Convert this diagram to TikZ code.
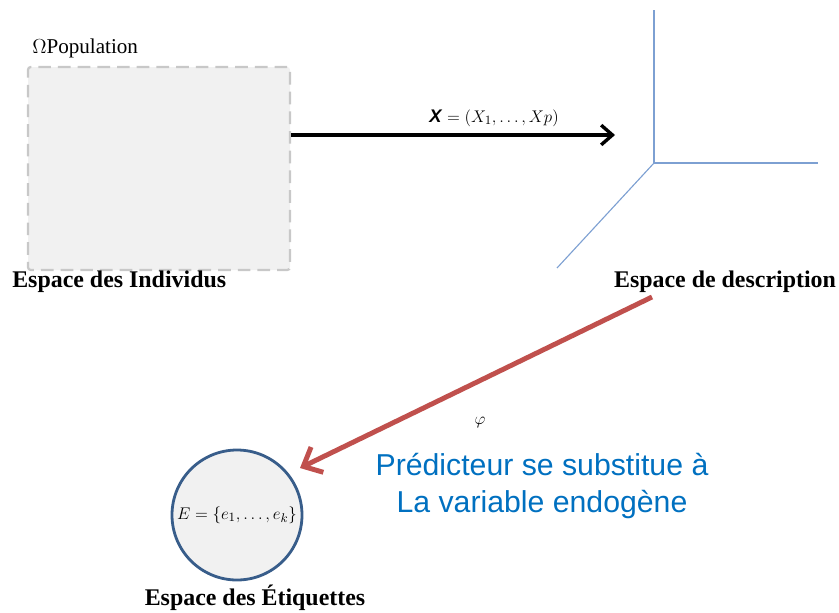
\documentclass[tikz,border=0pt]{standalone}
\usepackage{amsmath,amssymb}
\usepackage{fontspec}
\setmainfont{Liberation Serif}
\setsansfont{Liberation Sans}
\usepackage{tikz}
\usetikzlibrary{arrows.meta, positioning, calc}
\definecolor{popfill}{RGB}{241,241,241}
\definecolor{popdraw}{RGB}{200,200,200}
\definecolor{axeblue}{RGB}{125,160,210}
\definecolor{redarrow}{RGB}{192,80,77}
\definecolor{textblue}{RGB}{0,112,192}
\definecolor{circdraw}{RGB}{56,93,138}
\tikzset{
  titre/.style={font=\fontsize{17}{19}\selectfont\bfseries, inner sep=0pt},
  pop/.style={rectangle, rounded corners=2pt, fill=popfill, draw=popdraw,
    line width=1.6pt, dash pattern=on 9pt off 5pt},
  etq/.style={circle, fill=popfill, draw=circdraw, line width=2pt},
  axe/.style={draw=axeblue, line width=0.8pt},
  arr/.style={-{Straight Barb[length=8pt, width=14pt, line width=2.4pt]}, line width=2.4pt},
  rarr/.style={-{Straight Barb[length=11pt, width=20pt, line width=3.5pt]},
    draw=redarrow, line width=3.5pt}
}

\begin{document}
\begin{tikzpicture}[x=0.025cm, y=-0.025cm]
  \useasboundingbox (0,0) rectangle (839,612);

  % espace des individus
  \node[pop, minimum width=262*0.025cm, minimum height=203*0.025cm] (popu) at (159,168.5) {};
  \node[anchor=west, inner sep=0pt, font=\fontsize{15}{17}\selectfont] (omega) at (32,48) {$\Omega$Population};
  \node[titre, anchor=west] (indiv) at (12,282) {Espace des Individus};

  % espace de description
  \coordinate (o) at (654,163);
  \draw[axe] (o) -- (654,10);
  \draw[axe] (o) -- (818,163);
  \draw[axe] (o) -- (557,268);
  \node[titre] (desc) at (725,282) {Espace de description};

  % fleche X
  \coordinate (cible) at (615,135);
  \draw[arr] (popu.east |- cible) -- (cible);
  \node[font=\fontsize{13}{15}\selectfont] (xlab) at (494,118)
    {$\textsf{\textbf{\textit{X}}} = (X_1,\ldots,Xp)$};

  % espace des etiquettes
  \node[etq, minimum size=130*0.025cm] (cerc) at (237,515) {};
  \node[font=\fontsize{13}{15}\selectfont] (elab) at (cerc) {$E=\{e_1,\ldots,e_k\}$};
  \node[titre] (etiq) at (255,598) {Espace des \'Etiquettes};

  % fleche phi
  \coordinate (depart) at (652,297);
  \coordinate (pointe) at (300,468);
  \draw[rarr] (depart) -- (pointe);
  \node[font=\fontsize{13}{15}\selectfont] (phi) at (480,422) {$\varphi$};
  \node[font=\sffamily\fontsize{21.5}{27}\selectfont, text=textblue, align=center] (pred) at (542,486)
    {Prédicteur se substitue à\\La variable endogène};
\end{tikzpicture}
\end{document}
